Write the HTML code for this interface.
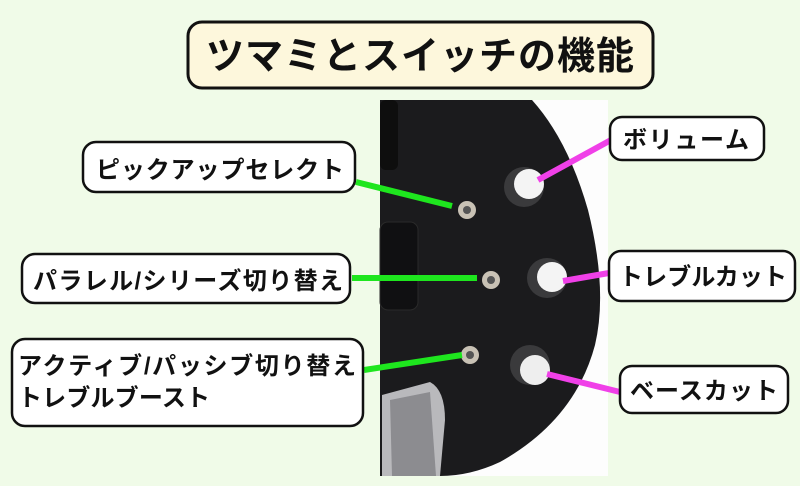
<!DOCTYPE html>
<html><head><meta charset="utf-8"><style>
html,body{margin:0;padding:0;background:#f0fbe8;}
svg{display:block}
text{font-family:"Liberation Sans","Noto Sans CJK JP",sans-serif;font-weight:600;fill:#111}
</style></head><body>
<svg width="800" height="486" viewBox="0 0 800 486" xmlns="http://www.w3.org/2000/svg">
<rect width="800" height="486" fill="#f0fbe8"/>
<!-- title -->
<rect x="188" y="22" width="465" height="66" rx="14" fill="#fdf7dc" stroke="#111" stroke-width="3"/>
<text x="206" y="69" font-size="38" font-weight="700" textLength="428" lengthAdjust="spacing">ツマミとスイッチの機能</text>
<!-- photo -->
<rect x="380" y="100" width="228" height="376" fill="#fdfdfd"/>
<path d="M380 100 L532 100 Q568 140 588 210 Q608 290 595 345 Q575 420 500 462 Q470 476 440 476 L380 476 Z" fill="#1b1b1d"/>
<rect x="380" y="100" width="18" height="70" rx="6" fill="#0e0e0e"/>
<rect x="380" y="222" width="38" height="88" rx="8" fill="#101012" stroke="#2a2a2a"/>
<path d="M382 395 L430 382 Q445 390 445 420 L440 476 L382 476 Z" fill="#b9b9bc"/>
<path d="M390 400 L430 392 L436 476 L392 476 Z" fill="#8c8c90"/>
<!-- switches -->
<circle cx="467" cy="210" r="9" fill="#c9c2b5"/><circle cx="467" cy="210" r="4" fill="#555"/>
<circle cx="491" cy="280" r="9" fill="#c9c2b5"/><circle cx="491" cy="280" r="4" fill="#555"/>
<circle cx="470" cy="355" r="9" fill="#c9c2b5"/><circle cx="470" cy="355" r="4" fill="#555"/>
<!-- knobs -->
<circle cx="524" cy="187" r="20" fill="#3a3a3c"/><circle cx="529" cy="184" r="15" fill="#f4f4f4"/>
<circle cx="547" cy="278" r="20" fill="#3a3a3c"/><circle cx="552" cy="277" r="15" fill="#f4f4f4"/>
<circle cx="530" cy="365" r="20" fill="#3a3a3c"/><circle cx="535" cy="370" r="15" fill="#eeeeee"/>
<!-- green connectors -->
<g stroke="#1ee61e" stroke-width="6">
<line x1="356" y1="182" x2="452" y2="206"/>
<line x1="352" y1="278" x2="477" y2="278"/>
<line x1="364" y1="370" x2="462" y2="355"/>
</g>
<!-- magenta connectors -->
<g stroke="#f040e8" stroke-width="6">
<line x1="611" y1="140" x2="538" y2="180"/>
<line x1="609" y1="273" x2="563" y2="281"/>
<line x1="620" y1="392" x2="547" y2="374"/>
</g>
<!-- labels -->
<g fill="#fff" stroke="#111" stroke-width="2.5">
<rect x="83" y="142" width="272" height="50" rx="13"/>
<rect x="22" y="254" width="328" height="49" rx="13"/>
<rect x="12" y="339" width="351" height="87" rx="13"/>
<rect x="610" y="117" width="154" height="43" rx="12"/>
<rect x="609" y="251" width="186" height="50" rx="12"/>
<rect x="620" y="366" width="168" height="47" rx="12"/>
</g>
<text x="96" y="178" font-size="24" textLength="248" lengthAdjust="spacing">ピックアップセレクト</text>
<text x="33" y="289" font-size="24" textLength="310" lengthAdjust="spacing">パラレル/シリーズ切り替え</text>
<text x="18" y="374" font-size="24" textLength="338" lengthAdjust="spacing">アクティブ/パッシブ切り替え</text>
<text x="18" y="406" font-size="24" textLength="192" lengthAdjust="spacing">トレブルブースト</text>
<text x="623" y="148" font-size="24" textLength="126" lengthAdjust="spacing">ボリューム</text>
<text x="619" y="285" font-size="24" textLength="168" lengthAdjust="spacing">トレブルカット</text>
<text x="630" y="399" font-size="24" textLength="148" lengthAdjust="spacing">ベースカット</text>
</svg>
</body></html>
